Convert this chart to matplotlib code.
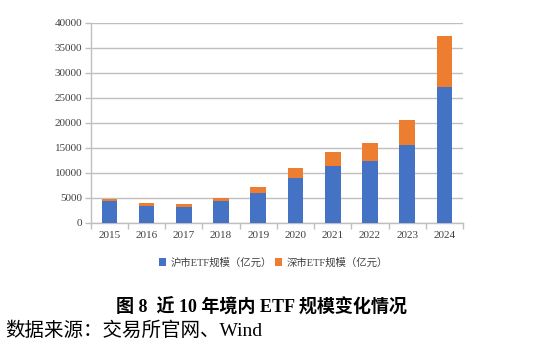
import matplotlib
matplotlib.use("Agg")
import matplotlib.pyplot as plt
import numpy as np

plt.rcParams['font.family'] = ['Liberation Serif', 'Noto Sans CJK SC']

years = ['2015', '2016', '2017', '2018', '2019', '2020', '2021', '2022', '2023', '2024']
sh_scale = [4270, 3400, 3200, 4330, 6000, 9000, 11400, 12400, 15530, 27200]
sz_scale = [400, 470, 530, 670, 1070, 2000, 2670, 3530, 4930, 10070]
sh_label = '沪市ETF规模（亿元）'
sz_label = '深市ETF规模（亿元）'
yticks = [0, 5000, 10000, 15000, 20000, 25000, 30000, 35000, 40000]

BLUE = '#4472C4'
ORANGE = '#ED7D31'
GRID = '#BFBFBF'

fig = plt.figure(figsize=(5.5, 3.44), dpi=100)
ax = fig.add_axes([0.165, 0.353, 0.677, 0.581])

x = np.arange(len(years))
ax.bar(x, sh_scale, width=0.42, color=BLUE, label=sh_label, zorder=3)
ax.bar(x, sz_scale, width=0.42, bottom=sh_scale, color=ORANGE, label=sz_label, zorder=3)

ax.set_xlim(-0.5, len(years) - 0.5)
ax.set_ylim(0, 40000)
ax.set_yticks(yticks)
ax.set_yticklabels([str(v) for v in yticks], fontsize=8, color='#404040')
ax.yaxis.grid(True, color=GRID, linewidth=1.0, zorder=0)

# category labels centred, tick marks between categories
ax.set_xticks(x)
ax.set_xticklabels(years, fontsize=8, color='#404040')
ax.tick_params(axis='x', length=0, pad=6)
ax.set_xticks(np.arange(-0.5, len(years)), minor=True)
ax.tick_params(axis='x', which='minor', length=4, color=GRID, width=1.0)
ax.tick_params(axis='y', length=4, color=GRID, width=1.0, pad=2)

for s in ['top', 'right']:
    ax.spines[s].set_visible(False)
for s in ['left', 'bottom']:
    ax.spines[s].set_color(GRID)
    ax.spines[s].set_linewidth(1.0)

ax.legend(loc='center', bbox_to_anchor=(0.49, -0.2), ncol=2, frameon=False,
          fontsize=7.5, handlelength=0.7, handleheight=0.7, handletextpad=0.4,
          columnspacing=0.3, labelcolor='#404040')

fig.text(0.475, 0.105, '图 8  近 10 年境内 ETF 规模变化情况', ha='center', va='center',
         fontsize=13, fontweight='bold')
fig.text(0.01, 0.04, '数据来源：交易所官网、Wind', ha='left', va='center', fontsize=14)

fig.savefig('out.png', dpi=100)
